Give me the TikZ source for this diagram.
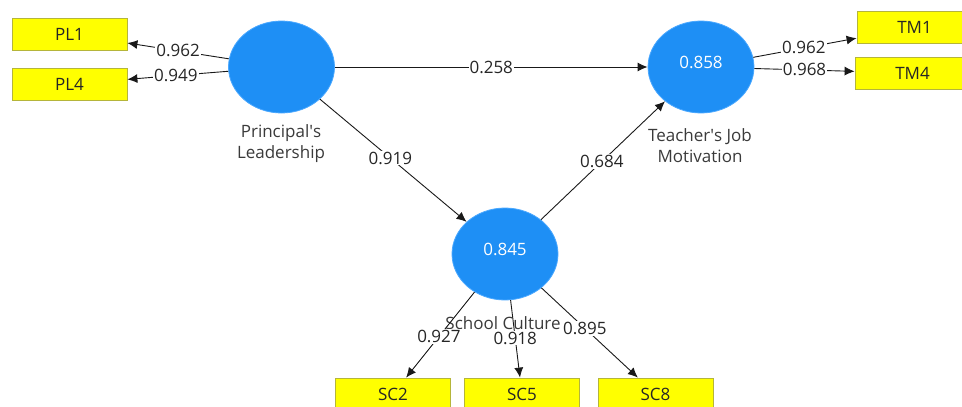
\documentclass[tikz,border=0pt]{standalone}
\usepackage{fontspec}
\setmainfont{Open Sans}
\usetikzlibrary{shapes.geometric,arrows.meta}
\definecolor{lvblue}{HTML}{1E8FF5}
\definecolor{lvedge}{HTML}{4BA8FF}
\definecolor{mvyellow}{HTML}{FFFF00}
\definecolor{mvedge}{HTML}{B5B53A}
\definecolor{txtgray}{HTML}{3A3A3A}
\begin{document}
\begin{tikzpicture}[x=1pt,y=-1pt,
  every node/.style={font=\fontsize{17}{20}\selectfont},
  latent/.style={ellipse,fill=lvblue,draw=lvedge,line width=0.8pt,minimum width=106pt,minimum height=92pt,inner sep=0pt},
  manifest/.style={rectangle,fill=mvyellow,draw=mvedge,line width=0.8pt,minimum width=115pt,minimum height=32pt,inner sep=0pt,text=black!85},
  lvname/.style={text=txtgray,align=center,inner sep=0pt},
  lvval/.style={text=white,inner sep=0pt},
  path/.style={draw=black!90,line width=0.9pt,-{Latex[length=10pt,width=9pt]}},
  coef/.style={fill=white,inner sep=1pt,text=black!85}]
\useasboundingbox (0,0) rectangle (962,407);
% latent variables
\node[latent] (pl) at (281.5,67) {};
\node[latent] (tm) at (701,67) {};
\node[latent] (sc) at (505,254) {};
\node[lvval] (tmv) at (701,62) {0.858};
\node[lvval] (scv) at (505,249) {0.845};
% manifest variables
\node[manifest] (pl1) at (69.5,34) {PL1};
\node[manifest] (pl4) at (69.5,84) {PL4};
\node[manifest] (tm1) at (914.5,27.5) {TM1};
\node[manifest] (tm4) at (912.5,73) {TM4};
\node[manifest] (sc2) at (393,394) {SC2};
\node[manifest] (sc5) at (522,394) {SC5};
\node[manifest] (sc8) at (655.5,394) {SC8};
% latent names
\node[lvname] (pln) at (281,144) {Principal\textquotesingle s\\[1pt]Leadership};
\node[lvname] (tmn) at (700,145.5) {Teacher\textquotesingle s Job\\[1pt]Motivation};
% paths
\draw[path] (pl) -- node[coef,pos=0.5] {0.962} (pl1);
\draw[path] (pl) -- node[coef,pos=0.52] {0.949} (pl4);
\draw[path] (pl) -- node[coef,pos=0.5] {0.258} (tm);
\draw[path] (pl) -- node[coef,pos=0.48] {0.919} (sc);
\draw[path] (sc) -- node[coef,pos=0.49] {0.684} (tm);
\draw[path] (tm) -- node[coef,pos=0.49] {0.962} (tm1);
\draw[path] (tm) -- node[coef,pos=0.5] {0.968} (tm4);
\node[lvname] (scn) at (503,323) {School Culture};
\draw[path] (sc) -- node[coef,pos=0.52] {0.927} (sc2);
\draw[path] (sc) -- node[coef,pos=0.49] {0.918} (sc5);
\draw[path] (sc) -- node[coef,pos=0.45] {0.895} (sc8);
\end{tikzpicture}
\end{document}
